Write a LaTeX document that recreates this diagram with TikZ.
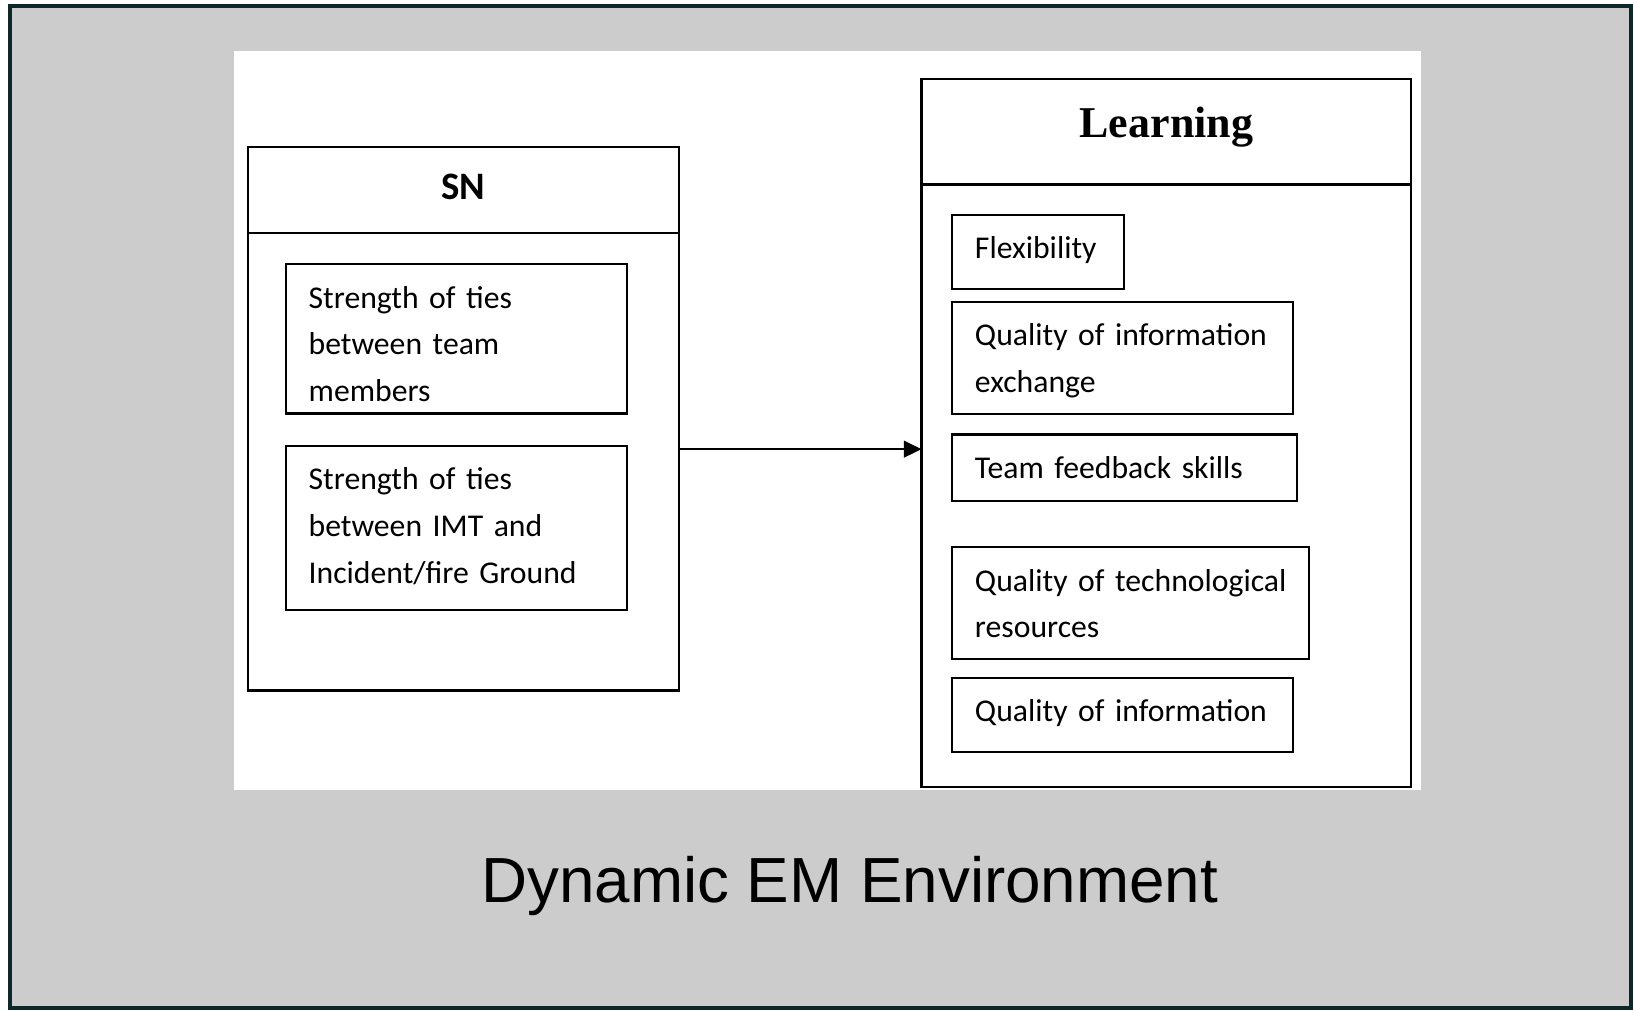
\documentclass[tikz,border=0pt]{standalone}
\usepackage{fontspec}
\usetikzlibrary{positioning}
\usetikzlibrary{arrows.meta}

\newfontfamily\calibrifont{Carlito}
\newfontfamily\timesfont{Liberation Serif}
\newfontfamily\arialfont{Liberation Sans}

\definecolor{framecol}{RGB}{12,40,40}
\definecolor{backcol}{RGB}{204,204,204}

\tikzset{
  box/.style={draw, line width=0.6pt, outer sep=0pt, inner sep=0pt},
  head/.style={box, anchor=north west},
  item/.style={box, anchor=north west, align=left, inner xsep=0.22cm,
    inner ysep=0pt, text height=0.42cm,
    font={\calibrifont\fontsize{8.65}{12.75}\selectfont\hyphenpenalty=10000}},
  arr/.style={-{Triangle[length=0.17cm,width=0.16cm]}, line width=0.6pt}
}

\begin{document}
\begin{tikzpicture}[x=0.01cm, y=-0.01cm]
  \useasboundingbox (0,0) rectangle (1568,970);
  % background and panel
  \draw[framecol, line width=1.15pt, fill=backcol] (9.5,6) rectangle (1565,967);
  \fill[white] (224.7,48.6) rectangle (1363.6,757.8);

  % SN block
  \node[head, minimum width=4.134cm, minimum height=0.825cm,
    text height=0.24cm, text depth=0.06cm,
    font={\calibrifont\bfseries\fontsize{10.6}{12}\selectfont}] (snhead) at (237.8,140.8) {SN};
  \node[box, minimum width=4.134cm, minimum height=4.391cm, below=0pt of snhead] (snbody) {};
  \node[item, text width=2.83cm, text depth=1.01cm] (tiesteam) at (274.2,253.7)
    {Strength of ties\\between team\\members};
  \node[item, text width=2.83cm, text depth=1.15cm] (tiesimt) at (274.2,428)
    {Strength of ties\\between IMT and\\Incident/fire Ground};

  % Learning block
  \node[head, minimum width=4.697cm, minimum height=1.01cm,
    text height=0.28cm, text depth=0.17cm,
    font={\timesfont\bfseries\fontsize{12}{14}\selectfont}] (lhead) at (884.3,76) {Learning};
  \node[box, minimum width=4.697cm, minimum height=5.78cm, below=0pt of lhead] (lbody) {};
  \node[item, text width=1.21cm, text depth=0.29cm] (flex) at (913.6,206.3) {Flexibility};
  \node[item, text width=2.83cm, text depth=0.655cm] (infoex) at (913.6,289.5)
    {Quality of information\\exchange};
  \node[item, text width=2.87cm, text depth=0.215cm] (feedback) at (913.6,417) {Team feedback skills};
  \node[item, text width=2.98cm, text depth=0.655cm] (techres) at (913.6,525.2)
    {\mbox{Quality of technological}\\resources};
  \node[item, text width=2.83cm, text depth=0.29cm] (infoqual) at (913.6,650.5) {Quality of information};

  \draw[arr] ([yshift=0.12cm]snbody.east) -- ([yshift=0.12cm]snbody.east -| lbody.west);

  \node[font={\arialfont\fontsize{17.4}{20}\selectfont}, anchor=base] (envlabel) at (815.4,866.3)
    {Dynamic EM Environment};
\end{tikzpicture}
\end{document}
